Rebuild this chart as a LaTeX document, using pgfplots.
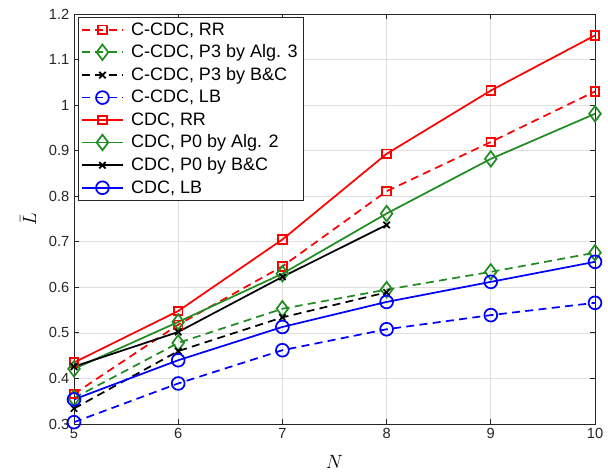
\documentclass[border=0pt]{standalone}
\usepackage{fontspec}
\setmainfont{Liberation Sans}
\usepackage{pgfplots}
\pgfplotsset{compat=1.18}
\definecolor{mgreen}{rgb}{0.13,0.55,0.13}
\definecolor{axgray}{rgb}{0.15,0.15,0.15}
\tikzset{ln/.style={line width=1.3pt}, dsh/.style={line width=1.3pt, dash pattern=on 6pt off 4pt}}
\begin{document}
\begin{tikzpicture}
\begin{axis}[
  scale only axis, width=390.75pt, height=307.5pt,
  xmin=5, xmax=10, ymin=0.3, ymax=1.2,
  xtick={5,6,7,8,9,10}, ytick={0.3,0.4,...,1.21},
  yticklabel style={/pgf/number format/fixed},
  /pgf/number format/assume math mode=true,
  tick label style={font=\fontsize{11}{13}\selectfont, text=axgray},
  xlabel={$N$}, ylabel={$\bar{L}$},
  xlabel style={font=\fontsize{15}{17}\selectfont, at={(axis description cs:0.5,-0.093)}, anchor=center},
  ylabel style={font=\fontsize{15}{17}\selectfont, at={(axis description cs:-0.088,0.5)}, anchor=center},
  axis line style={axgray, line width=0.6pt},
  tick style={axgray, line width=0.6pt}, tick align=inside,
  major tick length=3.75pt,
  xmajorgrids, ymajorgrids, grid style={gray!25, line width=0.5pt},
  legend style={at={(0.008,0.993)}, anchor=north west, font=\fontsize{13.5}{15}\selectfont,
    draw=axgray, fill=white, row sep=1.8pt, inner sep=2pt},
  legend cell align=left,
  legend image code/.code={\draw[mark repeat=2,mark phase=2,#1] plot coordinates {(0cm,0cm)(0.54cm,0cm)(1.08cm,0cm)};
    \path (1.2cm,0cm);},
]
% C-CDC (dashed)
\addplot[red, dsh, mark=square, mark size=3.2pt, mark options={solid}] coordinates {
  (5,0.366) (6,0.518) (7,0.646) (8,0.811) (9,0.919) (10,1.030)};
\addplot[mgreen, dsh, mark=diamond, mark size=5.8pt, mark options={solid}] coordinates {
  (5,0.357) (6,0.478) (7,0.553) (8,0.595) (9,0.634) (10,0.676)};
\addplot[black, dsh, mark=x, mark size=3.4pt, mark options={solid}] coordinates {
  (5,0.334) (6,0.460) (7,0.534) (8,0.589)};
\addplot[blue, dsh, mark=o, mark size=4.8pt, mark options={solid}] coordinates {
  (5,0.304) (6,0.389) (7,0.462) (8,0.508) (9,0.539) (10,0.566)};
% CDC (solid)
\addplot[red, ln, mark=square, mark size=3.2pt] coordinates {
  (5,0.435) (6,0.548) (7,0.705) (8,0.893) (9,1.032) (10,1.153)};
\addplot[mgreen, ln, mark=diamond, mark size=5.8pt] coordinates {
  (5,0.421) (6,0.524) (7,0.630) (8,0.762) (9,0.882) (10,0.981)};
\addplot[black, ln, mark=x, mark size=3.4pt] coordinates {
  (5,0.426) (6,0.502) (7,0.623) (8,0.737)};
\addplot[blue, ln, mark=o, mark size=4.8pt] coordinates {
  (5,0.354) (6,0.440) (7,0.513) (8,0.568) (9,0.612) (10,0.656)};
\legend{C-CDC{,} RR, C-CDC{,} P3 by Alg. 3, C-CDC{,} P3 by B\&C, C-CDC{,} LB,
  CDC{,} RR, CDC{,} P0 by Alg. 2, CDC{,} P0 by B\&C, CDC{,} LB}
\end{axis}
\path ([xshift=-55.5pt,yshift=-37.5pt]current axis.south west) rectangle ([xshift=9.75pt,yshift=10.5pt]current axis.north east);
\end{tikzpicture}
\end{document}
